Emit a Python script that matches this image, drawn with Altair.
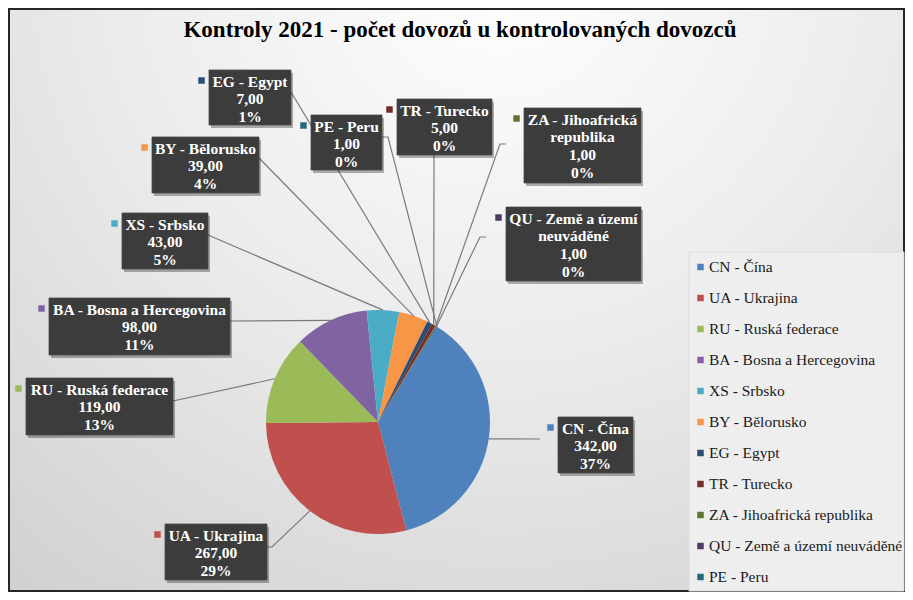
import math
import altair as alt
import pandas as pd

# ---------------- data ----------------
countries = ["CN - Čína", "UA - Ukrajina", "RU - Ruská federace",
             "BA - Bosna a Hercegovina", "XS - Srbsko", "BY - Bělorusko",
             "EG - Egypt", "TR - Turecko", "ZA - Jihoafrická republika",
             "QU - Země a území neuváděné", "PE - Peru"]
values = [342, 267, 119, 98, 43, 39, 7, 5, 1, 1, 1]
pct_labels = ["37%", "29%", "13%", "11%", "5%", "4%", "1%", "0%", "0%", "0%", "0%"]
name_lines = [["CN - Čína"], ["UA - Ukrajina"], ["RU - Ruská federace"],
              ["BA - Bosna a Hercegovina"], ["XS - Srbsko"], ["BY - Bělorusko"],
              ["EG - Egypt"], ["TR - Turecko"], ["ZA - Jihoafrická", "republika"],
              ["QU - Země a území", "neuváděné"], ["PE - Peru"]]
colors = ["#4F81BD", "#C0504D", "#9BBB59", "#8064A2", "#4BACC6", "#F79646",
          "#2C4D75", "#772C2A", "#5F7530", "#4D3B62", "#276A7C"]
title_text = "Kontroly 2021 - počet dovozů u kontrolovaných dovozců"

# ---------------- layout (page coordinates of the reference) ----------------
SERIF = "Times New Roman, Liberation Serif, serif"
OFF = 8
W, H = 897, 584
CX, CY, R = 378, 422, 112
START_DEG = 32.0
box_pos = [(558, 417, 633, 473), (165, 524, 267, 580), (26, 378, 173, 435),
           (49, 298, 230, 355), (122, 213, 208, 269), (152, 137, 259, 193),
           (209, 70, 291, 125), (397, 99, 492, 155), (524, 108, 641, 183),
           (506, 207, 641, 281), (311, 115, 382, 170)]
leader_pts = [[(540, 439)], [(272, 547), (267, 547)], [(173, 401)], [(230, 321)],
              [(208, 235)], [(259, 158)], [(291, 92)], [(434, 155)],
              [(500, 144), (506, 144)], [(480, 237), (486, 237)],
              [(388, 137), (382, 137)]]
LINE_H = 17.8
LEG_BOX = (689, 252, 904, 591)
LEG_SYM_X, LEG_TXT_X, LEG_Y0, LEG_DY = 700.5, 709, 267, 31

total = sum(values)
pie_df = pd.DataFrame({"country": countries, "value": values,
                       "idx": list(range(len(values)))})

# leader lines: start at slice middle on the pie edge
line_rows = []
cum = 0
for i, v in enumerate(values):
    mid = START_DEG + (cum + v / 2) / total * 360
    cum += v
    a = math.radians(mid)
    sx = CX + R * math.sin(a)
    sy = CY - R * math.cos(a)
    pts = [(sx, sy)] + leader_pts[i]
    for k, (px, py) in enumerate(pts):
        line_rows.append({"country": countries[i], "seq": k,
                          "x": px - OFF, "y": py - OFF})
lines_df = pd.DataFrame(line_rows)

box_rows, text_rows, sq_rows = [], [], []
for i, (x0, y0, x1, y1) in enumerate(box_pos):
    box_rows.append({"x0": x0 - OFF, "y0": y0 - OFF, "x1": x1 - OFF, "y1": y1 - OFF,
                     "sx0": x0 - OFF + 2, "sy0": y0 - OFF + 3,
                     "sx1": x1 - OFF + 2, "sy1": y1 - OFF + 3})
    val_txt = f"{values[i]:.2f}".replace(".", ",")
    lines = name_lines[i] + [val_txt, pct_labels[i]]
    for k, t in enumerate(lines):
        text_rows.append({"x": (x0 + x1) / 2 - OFF,
                          "y": y0 + 11.5 + LINE_H * k - OFF, "t": t})
    sq_rows.append({"x": x0 - 7.5 - OFF, "y": y0 + 10.5 - OFF, "hex": colors[i]})
# legend entries
for i, c in enumerate(countries):
    sq_rows.append({"x": LEG_SYM_X - OFF, "y": LEG_Y0 + LEG_DY * i - OFF, "hex": colors[i]})
leg_txt_df = pd.DataFrame({"t": countries,
                           "x": [LEG_TXT_X - OFF] * len(countries),
                           "y": [LEG_Y0 + LEG_DY * i - OFF for i in range(len(countries))]})
box_df = pd.DataFrame(box_rows)
text_df = pd.DataFrame(text_rows)
sq_df = pd.DataFrame(sq_rows)

one = pd.DataFrame({"a": [0]})

# ---------------- layers ----------------
background = alt.Chart(one).mark_rect(
    fill={"gradient": "radial", "x1": 0.55, "y1": 0.12, "r1": 0.0,
          "x2": 0.55, "y2": 0.12, "r2": 0.95,
          "stops": [{"offset": 0, "color": "#ffffff"},
                    {"offset": 0.45, "color": "#ececec"},
                    {"offset": 1, "color": "#cdcdcd"}]},
    stroke="#262626", strokeWidth=2
).encode(x=alt.value(1), x2=alt.value(W - 1), y=alt.value(1), y2=alt.value(H - 1))

legend_box = alt.Chart(one).mark_rect(fill="#eeeeee", stroke="#dcdcdc", strokeWidth=1).encode(
    x=alt.value(LEG_BOX[0] - OFF), x2=alt.value(LEG_BOX[2] - OFF),
    y=alt.value(LEG_BOX[1] - OFF), y2=alt.value(LEG_BOX[3] - OFF))

legend_text = alt.Chart(leg_txt_df).mark_text(
    font=SERIF, fontSize=15.5, color="#1a1a1a", align="left", baseline="middle"
).encode(
    x=alt.X("x:Q", scale=None, axis=None),
    y=alt.Y("y:Q", scale=None, axis=None),
    text="t:N",
)

title = alt.Chart(one).mark_text(
    text=title_text, font=SERIF, fontWeight="bold", fontSize=23,
    color="#000000", align="center", baseline="middle"
).encode(x=alt.value(460 - OFF), y=alt.value(30 - OFF))

pie = alt.Chart(pie_df).mark_arc(outerRadius=R).encode(
    theta=alt.Theta("value:Q", stack=True,
                    scale=alt.Scale(range=[math.radians(START_DEG),
                                           math.radians(START_DEG) + 2 * math.pi])),
    color=alt.Color("country:N", sort=countries,
                    scale=alt.Scale(domain=countries, range=colors), legend=None),
    order=alt.Order("idx:Q"),
    x=alt.value(CX - OFF), y=alt.value(CY - OFF),
)

leaders = alt.Chart(lines_df).mark_line(color="#7a7a7a", strokeWidth=1.2).encode(
    x=alt.X("x:Q", scale=None, axis=None),
    y=alt.Y("y:Q", scale=None, axis=None),
    detail="country:N",
    order="seq:Q",
)

shadows = alt.Chart(box_df).mark_rect(fill="#000000", opacity=0.3).encode(
    x=alt.X("sx0:Q", scale=None, axis=None), x2="sx1:Q",
    y=alt.Y("sy0:Q", scale=None, axis=None), y2="sy1:Q",
)

boxes = alt.Chart(box_df).mark_rect(fill="#3c3c3c", stroke="#4a4a4a", strokeWidth=0.8).encode(
    x=alt.X("x0:Q", scale=None, axis=None), x2="x1:Q",
    y=alt.Y("y0:Q", scale=None, axis=None), y2="y1:Q",
)

box_text = alt.Chart(text_df).mark_text(
    font=SERIF, fontWeight="bold", fontSize=15.5, color="#ffffff",
    align="center", baseline="middle"
).encode(
    x=alt.X("x:Q", scale=None, axis=None),
    y=alt.Y("y:Q", scale=None, axis=None),
    text="t:N",
)

squares = alt.Chart(sq_df).mark_square(size=42, opacity=1).encode(
    x=alt.X("x:Q", scale=None, axis=None),
    y=alt.Y("y:Q", scale=None, axis=None),
    fill=alt.Fill("hex:N", scale=None),
)

chart = alt.layer(background, legend_box, legend_text, title, pie, leaders, shadows,
                  boxes, box_text, squares).properties(
    width=W, height=H, padding=0, autosize=alt.AutoSizeParams(type="none")
).configure(font=SERIF).configure_view(stroke=None)

chart.save("out.html", embed_options={"renderer": "svg", "actions": False})
